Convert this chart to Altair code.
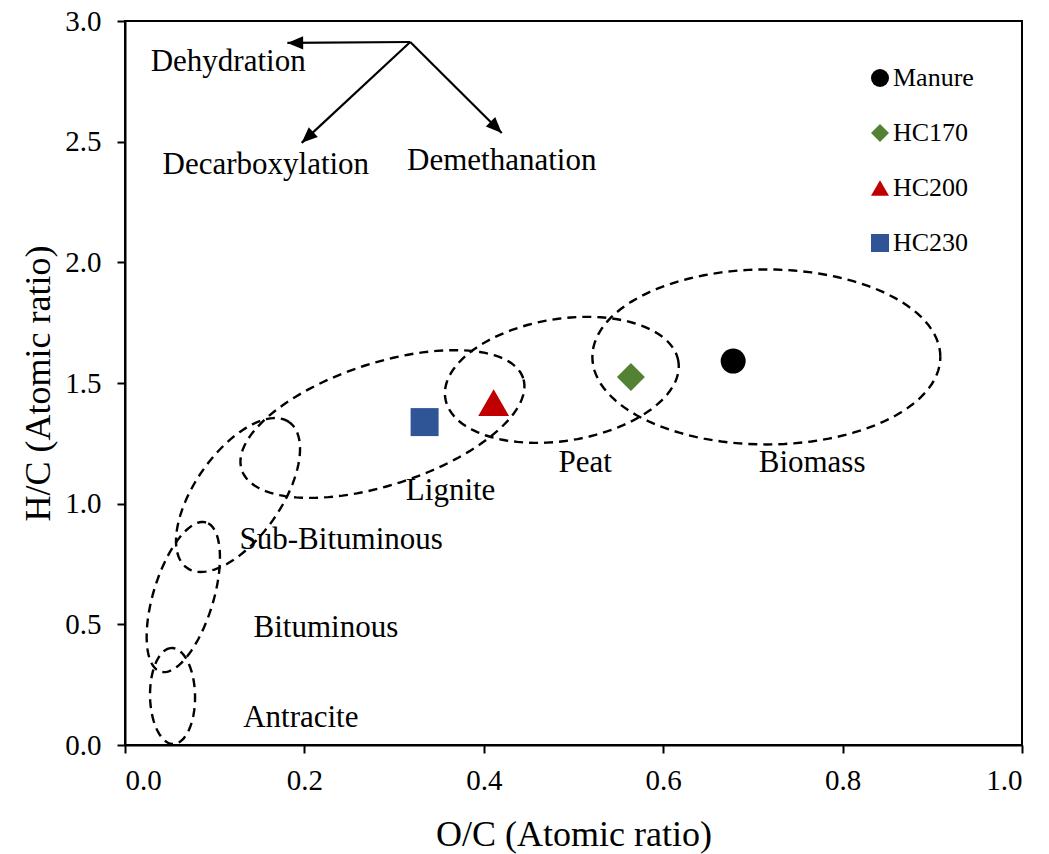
import math
import altair as alt
import pandas as pd

# ---------------- data ----------------
W, H = 897, 724          # plot area in px
X_MAX, Y_MAX = 1.0, 3.0

samples = ["Manure", "HC170", "HC200", "HC230"]
oc_ratio = [0.678, 0.564, 0.411, 0.334]
hc_ratio = [1.591, 1.525, 1.419, 1.338]
sample_colors = ["#000000", "#548235", "#C00000", "#2F5597"]
sample_shapes = ["circle", "diamond", "triangle-up", "square"]
sample_sizes = [625, 784, 950, 784]

# fuel regions drawn as dashed ellipses (centre in data units, semi-axes in px, rotation deg)
region_names = ["Antracite", "Bituminous", "Sub-Bituminous", "Lignite", "Peat", "Biomass"]
region_cx = [0.053, 0.065, 0.126, 0.287, 0.487, 0.715]
region_cy = [0.203, 0.613, 1.036, 1.330, 1.513, 1.608]
region_a = [48, 78, 89, 148, 118, 174]
region_b = [22.5, 30, 43, 61, 61, 87.5]
region_rot = [91, 73, 55, 18, 9, 0]

# region label positions
region_label_x = [0.196, 0.224, 0.241, 0.363, 0.513, 0.766]
region_label_y = [0.112, 0.485, 0.849, 1.052, 1.168, 1.168]

# reaction arrows
arrow_names = ["Dehydration", "Decarboxylation", "Demethanation"]
arrow_x0 = [0.318, 0.318, 0.318]
arrow_y0 = [2.913, 2.913, 2.913]
arrow_x1 = [0.181, 0.197, 0.420]
arrow_y1 = [2.909, 2.495, 2.536]
arrow_label_x = [0.115, 0.157, 0.420]
arrow_label_y = [2.830, 2.403, 2.420]

x_ticks = [0.0, 0.2, 0.4, 0.6, 0.8, 1.0]
y_ticks = [0.0, 0.5, 1.0, 1.5, 2.0, 2.5, 3.0]

FONT = "Liberation Serif"
PXX = W / X_MAX
PXY = H / Y_MAX

# ---------------- tables ----------------
samples_df = pd.DataFrame({"sample": samples, "oc": oc_ratio, "hc": hc_ratio})
regions_df = pd.DataFrame({"name": region_names, "cx": region_cx, "cy": region_cy,
                           "a": region_a, "b": region_b, "rot": region_rot})
region_labels_df = pd.DataFrame({"name": region_names, "x": region_label_x, "y": region_label_y})
arrow_angles = [
    math.degrees(math.atan2((x1 - x0) * PXX, (y1 - y0) * PXY)) % 360
    for x0, y0, x1, y1 in zip(arrow_x0, arrow_y0, arrow_x1, arrow_y1)
]
arrows_df = pd.DataFrame({"name": arrow_names, "x0": arrow_x0, "y0": arrow_y0,
                          "x1": arrow_x1, "y1": arrow_y1, "angle": arrow_angles,
                          "lx": arrow_label_x, "ly": arrow_label_y})

xs = alt.Scale(domain=[0, X_MAX], nice=False, zero=False)
ys = alt.Scale(domain=[0, Y_MAX], nice=False, zero=False)

x_axis = alt.Axis(values=x_ticks, format=".1f", title="O/C (Atomic ratio)")
y_axis = alt.Axis(values=y_ticks, format=".1f", title="H/C (Atomic ratio)")

# ---------------- layers ----------------
ellipses = (
    alt.Chart(regions_df)
    .transform_calculate(t="sequence(0, 361, 3)")
    .transform_flatten(["t"])
    .transform_calculate(
        ex=f"datum.cx + (datum.a*cos(datum.t*PI/180)*cos(datum.rot*PI/180) - datum.b*sin(datum.t*PI/180)*sin(datum.rot*PI/180))/{PXX}",
        ey=f"datum.cy + (datum.a*cos(datum.t*PI/180)*sin(datum.rot*PI/180) + datum.b*sin(datum.t*PI/180)*cos(datum.rot*PI/180))/{PXY}",
    )
    .mark_line(color="black", strokeWidth=2.4, strokeDash=[9, 6])
    .encode(
        x=alt.X("ex:Q", scale=xs, axis=x_axis),
        y=alt.Y("ey:Q", scale=ys, axis=y_axis),
        detail="name:N",
        order="t:Q",
    )
)

region_text = (
    alt.Chart(region_labels_df)
    .mark_text(font=FONT, fontSize=31, color="black", align="center", baseline="middle")
    .encode(x=alt.X("x:Q", scale=xs), y=alt.Y("y:Q", scale=ys), text="name:N")
)

shafts = (
    alt.Chart(arrows_df)
    .mark_rule(color="black", strokeWidth=2.2)
    .encode(x=alt.X("x0:Q", scale=xs), y=alt.Y("y0:Q", scale=ys), x2="x1:Q", y2="y1:Q")
)

heads = (
    alt.Chart(arrows_df)
    .mark_point(shape="M0,0L-0.42,1L0.42,1Z", filled=True, color="black", opacity=1, size=1000)
    .encode(x=alt.X("x1:Q", scale=xs), y=alt.Y("y1:Q", scale=ys),
            angle=alt.Angle("angle:Q", scale=None))
)

arrow_text = (
    alt.Chart(arrows_df)
    .mark_text(font=FONT, fontSize=31, color="black", align="center", baseline="middle")
    .encode(x=alt.X("lx:Q", scale=xs), y=alt.Y("ly:Q", scale=ys), text="name:N")
)

color_enc = alt.Color(
    "sample:N", scale=alt.Scale(domain=samples, range=sample_colors),
    legend=alt.Legend(title=None, orient="none", legendX=742, legendY=44, symbolSize=324),
)
shape_enc = alt.Shape("sample:N", scale=alt.Scale(domain=samples, range=sample_shapes))

point_layers = [
    alt.Chart(samples_df)
    .transform_filter(alt.datum.sample == s)
    .mark_point(filled=True, opacity=1, size=sz)
    .encode(x=alt.X("oc:Q", scale=xs), y=alt.Y("hc:Q", scale=ys),
            color=color_enc, shape=shape_enc)
    for s, sz in zip(samples, sample_sizes)
]

chart = (
    alt.layer(ellipses, region_text, shafts, heads, arrow_text, *point_layers)
    .properties(width=W, height=H,
                autosize=alt.AutoSizeParams(type="none"),
                padding={"left": 125, "top": 21, "right": 27, "bottom": 109})
    .configure(background="white")
    .configure_view(stroke="black", strokeWidth=2)
    .configure_axis(
        grid=False, domainColor="black", domainWidth=2, tickColor="black", tickWidth=2,
        tickSize=8, labelFont=FONT, labelFontSize=29, labelColor="black",
        titleFont=FONT, titleFontSize=36, titleFontWeight="normal", titleColor="black",
    )
    .configure_axisX(labelPadding=13, titlePadding=22)
    .configure_axisY(labelPadding=16, titlePadding=7)
    .configure_legend(
        labelFont=FONT, labelFontSize=26, labelColor="black", symbolSize=324,
        rowPadding=29, labelOffset=0, padding=0, symbolStrokeWidth=0,
    )
)

chart.save("out.html", embed_options={"renderer": "svg", "actions": False})
